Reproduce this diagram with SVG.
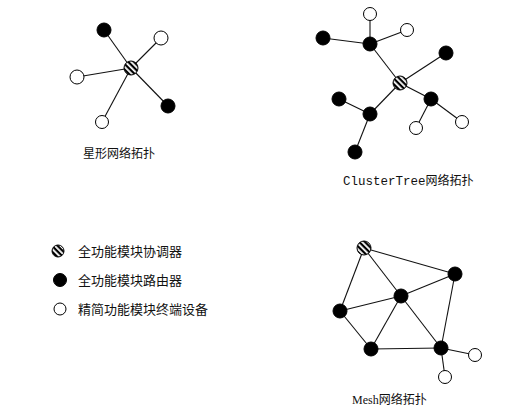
<svg xmlns="http://www.w3.org/2000/svg" width="511" height="417" viewBox="0 0 511 417">
<defs>
<pattern id="hatch" width="4" height="4" patternUnits="userSpaceOnUse" patternTransform="rotate(45)">
<rect width="4" height="4" fill="#fff"/>
<rect width="4" height="2.2" fill="#000"/>
</pattern>
</defs>
<style>
.e{stroke:#111;stroke-width:1.1;fill:none}
.b{fill:#000;stroke:#000;stroke-width:1}
.w{fill:#fff;stroke:#000;stroke-width:1}
.h{fill:url(#hatch);stroke:#000;stroke-width:1}
text{font-family:"Liberation Serif","Noto Sans CJK SC",serif;font-size:13px;fill:#111}
.l{font-size:12px}
.m{font-family:"Liberation Mono","Noto Sans CJK SC",monospace;font-size:12.5px}
</style>
<rect width="511" height="417" fill="#fff"/>
<g id="connectors">
<line class="e" x1="131" y1="68" x2="104" y2="30"/>
<line class="e" x1="131" y1="68" x2="161" y2="38"/>
<line class="e" x1="131" y1="68" x2="77" y2="77"/>
<line class="e" x1="131" y1="68" x2="168" y2="106"/>
<line class="e" x1="131" y1="68" x2="102" y2="122"/>
<line class="e" x1="400" y1="83" x2="370" y2="44"/>
<line class="e" x1="400" y1="83" x2="446" y2="53"/>
<line class="e" x1="400" y1="83" x2="431" y2="99"/>
<line class="e" x1="400" y1="83" x2="370" y2="114"/>
<line class="e" x1="370" y1="44" x2="370" y2="14"/>
<line class="e" x1="370" y1="44" x2="323" y2="38"/>
<line class="e" x1="370" y1="44" x2="407" y2="30"/>
<line class="e" x1="431" y1="99" x2="416" y2="128"/>
<line class="e" x1="431" y1="99" x2="462" y2="122"/>
<line class="e" x1="370" y1="114" x2="339" y2="99"/>
<line class="e" x1="370" y1="114" x2="355" y2="152"/>
<line class="e" x1="364" y1="248" x2="340" y2="311"/>
<line class="e" x1="364" y1="248" x2="401" y2="296"/>
<line class="e" x1="364" y1="248" x2="455" y2="274"/>
<line class="e" x1="455" y1="274" x2="401" y2="296"/>
<line class="e" x1="455" y1="274" x2="441" y2="348"/>
<line class="e" x1="401" y1="296" x2="340" y2="311"/>
<line class="e" x1="401" y1="296" x2="371" y2="349"/>
<line class="e" x1="401" y1="296" x2="441" y2="348"/>
<line class="e" x1="340" y1="311" x2="371" y2="349"/>
<line class="e" x1="371" y1="349" x2="441" y2="348"/>
<line class="e" x1="441" y1="348" x2="475" y2="355"/>
<line class="e" x1="441" y1="348" x2="445" y2="377"/>
</g>
<g id="star">
<circle id="star-center" class="h" cx="131" cy="68" r="7"/>
<circle id="star-n1" class="b" cx="104" cy="30" r="7"/>
<circle id="star-n2" class="w" cx="161" cy="38" r="7"/>
<circle id="star-n3" class="w" cx="77" cy="77" r="7"/>
<circle id="star-n4" class="b" cx="168" cy="106" r="7"/>
<circle id="star-n5" class="w" cx="102" cy="122" r="6.5"/>
<text class="l" x="83" y="158">星形网络拓扑</text>
</g>
<g id="cluster">
<circle id="ct-center" class="h" cx="400" cy="83" r="7"/>
<circle id="ct-a" class="b" cx="370" cy="44" r="7"/>
<circle id="ct-a1" class="w" cx="370" cy="14" r="6.5"/>
<circle id="ct-a2" class="b" cx="323" cy="38" r="7"/>
<circle id="ct-a3" class="w" cx="407" cy="30" r="6.5"/>
<circle id="ct-b" class="b" cx="446" cy="53" r="7"/>
<circle id="ct-c" class="b" cx="431" cy="99" r="7"/>
<circle id="ct-c1" class="w" cx="416" cy="128" r="6.5"/>
<circle id="ct-c2" class="w" cx="462" cy="122" r="6.5"/>
<circle id="ct-d" class="b" cx="370" cy="114" r="7"/>
<circle id="ct-d1" class="b" cx="339" cy="99" r="7"/>
<circle id="ct-d2" class="b" cx="355" cy="152" r="7"/>
<text class="l" x="343" y="185"><tspan class="m">ClusterTree</tspan>网络拓扑</text>
</g>
<g id="mesh">
<circle id="m-coord" class="h" cx="364" cy="248" r="7"/>
<circle id="m-1" class="b" cx="455" cy="274" r="7"/>
<circle id="m-2" class="b" cx="401" cy="296" r="7"/>
<circle id="m-3" class="b" cx="340" cy="311" r="7"/>
<circle id="m-4" class="b" cx="371" cy="349" r="7"/>
<circle id="m-5" class="b" cx="441" cy="348" r="7"/>
<circle id="m-6" class="w" cx="475" cy="355" r="6.5"/>
<circle id="m-7" class="w" cx="445" cy="377" r="6.5"/>
<text class="l" x="352" y="404">Mesh网络拓扑</text>
</g>
<g id="legend">
<circle id="lg-h" class="h" cx="58" cy="251" r="6"/>
<text x="78" y="256">全功能模块协调器</text>
<circle id="lg-b" class="b" cx="60" cy="280" r="6.5"/>
<text x="78" y="285">全功能模块路由器</text>
<circle id="lg-w" class="w" cx="60" cy="309" r="6"/>
<text x="78" y="314">精简功能模块终端设备</text>
</g>
</svg>
